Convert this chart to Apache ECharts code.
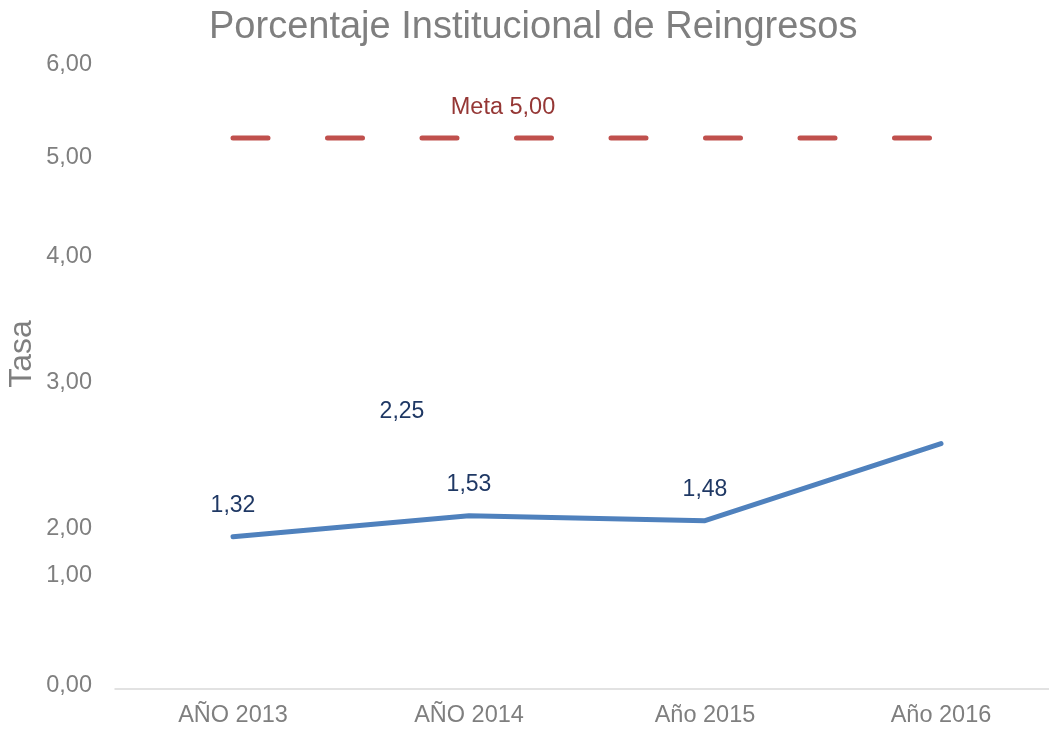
<!DOCTYPE html>
<html>
<head>
    <meta charset="utf-8">
    <title>Porcentaje Institucional de Reingresos</title>
    <script src="https://cdn.jsdelivr.net/npm/echarts@6/dist/echarts.min.js"></script>
</head>
<body style="margin:0">
    <div id="main" style="width:1049px;height:731px;"></div>
    <script type="text/javascript">
// datos
var years = ['AÑO 2013', 'AÑO 2014', 'Año 2015', 'Año 2016'];
var tasa = [1.32, 1.53, 1.48, 2.25];
var tasaLabels = ['1,32', '1,53', '1,48', '2,25'];
var meta = [5.3, 5.3, 5.3, 5.3];
var metaText = 'Meta 5,00';
// etiquetas del eje Y (tal como aparecen, no equiespaciadas)
var tickValues = [-0.17, 0.93, 1.40, 2.86, 4.12, 5.11, 6.03];
var tickLabels = ['0,00', '1,00', '2,00', '3,00', '4,00', '5,00', '6,00'];

var font = 'Liberation Sans';
var grey = '#7f7f7f';

var chart = echarts.init(document.getElementById('main'));

var tasaData = tasa.map(function (v, i) {
    var d = { value: v, label: { formatter: tasaLabels[i] } };
    if (i === 3) {
        d.label.offset = [-539, 0];   // la etiqueta quedó desplazada en el original
    }
    return d;
});

var metaData = meta.map(function (v, i) {
    if (i === 1) {
        return { value: v, label: { show: true, formatter: metaText, offset: [34, 0] } };
    }
    return v;
});

chart.setOption({
    backgroundColor: '#fff',
    animation: false,
    title: {
        text: 'Porcentaje Institucional de Reingresos',
        left: 204,
        top: 4,
        textStyle: { color: grey, fontFamily: font, fontSize: 38, fontWeight: 'normal' }
    },
    grid: { left: 115, right: -10, top: 63, bottom: 42, containLabel: false, outerBoundsMode: 'none' },
    xAxis: {
        type: 'category',
        data: years,
        boundaryGap: true,
        axisLine: { onZero: false, lineStyle: { color: '#d9d9d9', width: 1.5 } },
        axisTick: { show: false },
        axisLabel: { color: grey, fontFamily: font, fontSize: 23.5, margin: 15 }
    },
    yAxis: {
        type: 'value',
        min: -0.2,
        max: 6.05,
        name: 'Tasa',
        nameLocation: 'middle',
        nameGap: 77,
        nameMoveOverlap: false,
        nameTextStyle: { color: grey, fontFamily: font, fontSize: 32, padding: [0, 0, 0, 44] },
        splitLine: { show: false },
        axisLine: { show: false },
        axisTick: { show: false },
        axisLabel: {
            customValues: tickValues,
            color: grey, fontFamily: font, fontSize: 23.5, margin: 23,
            formatter: function (v) {
                var i = tickValues.indexOf(v);
                return i >= 0 ? tickLabels[i] : '';
            }
        }
    },
    series: [
        {
            name: 'Tasa',
            type: 'line',
            data: tasaData,
            symbol: 'circle',
            symbolSize: 0,
            lineStyle: { color: '#4f81bd', width: 5, cap: 'round', join: 'round' },
            itemStyle: { color: '#4f81bd' },
            label: {
                show: true, position: 'top', distance: 20,
                color: '#1f3864', fontFamily: font, fontSize: 23
            }
        },
        {
            name: 'Meta',
            type: 'line',
            data: metaData,
            symbol: 'circle',
            symbolSize: 0,
            lineStyle: { color: '#c0504d', width: 5, type: [35, 59.5], cap: 'round' },
            itemStyle: { color: '#c0504d' },
            label: {
                show: false, position: 'top', distance: 19,
                color: '#953735', fontFamily: font, fontSize: 23.5
            }
        }
    ]
});
    </script>
</body>
</html>
